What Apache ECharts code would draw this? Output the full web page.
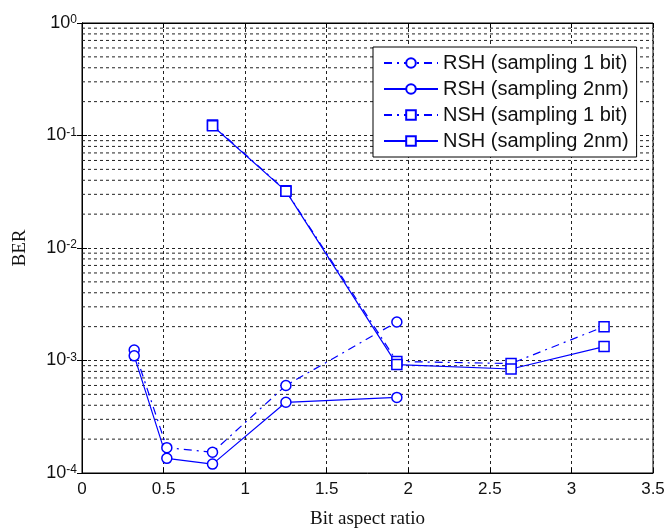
<!DOCTYPE html>
<html>
<head>
<meta charset="utf-8">
<script src="https://cdn.jsdelivr.net/npm/echarts@6/dist/echarts.min.js"></script>
<style>
  html, body { margin: 0; padding: 0; background: #fff; }
  #chart { width: 670px; height: 531px; }
</style>
</head>
<body>
<div id="chart"></div>
<script>
// Bit aspect ratio on x, bit error rate (log scale) on y
const seriesNames = [
  'RSH (sampling 1 bit)',
  'RSH (sampling 2nm)',
  'NSH (sampling 1 bit)',
  'NSH (sampling 2nm)'
];

const rshRatio = [0.32, 0.52, 0.80, 1.25, 1.93];
const rsh1bit  = [1.24e-3, 1.68e-4, 1.53e-4, 6.0e-4, 2.2e-3];
const rsh2nm   = [1.10e-3, 1.35e-4, 1.20e-4, 4.25e-4, 4.7e-4];

const nshRatio = [0.80, 1.25, 1.93, 2.63, 3.20];
const nsh1bit  = [0.124, 0.0323, 9.8e-4, 9.4e-4, 2.0e-3];
const nsh2nm   = [0.122, 0.0320, 9.2e-4, 8.4e-4, 1.33e-3];

const xTicks = [0, 0.5, 1, 1.5, 2, 2.5, 3, 3.5];
const yDecades = [-4, -3, -2, -1, 0];

const BLUE = '#0000ff';
const GRID_DASH = { type: [3, 3], color: '#222', width: 1 };
const DASH_DOT = [8, 5, 2, 5];
const sansFont = '"Liberation Sans", Arial, sans-serif';
const serifFont = '"Liberation Serif", "Times New Roman", serif';

const xMin = xTicks[0];
const xMax = xTicks[xTicks.length - 1];

function pairs(xs, ys) {
  return xs.map((x, i) => [x, ys[i]]);
}

// minor log grid lines (2..9 within every decade), each spanning the x range
const minorGridSeries = [];
for (let d = yDecades[0]; d < yDecades[yDecades.length - 1]; d++) {
  for (let m = 2; m <= 9; m++) {
    const v = m * Math.pow(10, d);
    minorGridSeries.push({
      name: 'grid-' + m + 'e' + d,
      type: 'line',
      data: [[xMin, v], [xMax, v]],
      symbol: 'none',
      silent: true,
      z: 1,
      lineStyle: GRID_DASH,
      emphasis: { disabled: true },
      tooltip: { show: false }
    });
  }
}

function curve(name, xs, ys, symbol, dashed) {
  return {
    name: name,
    type: 'line',
    data: pairs(xs, ys),
    symbol: symbol,
    symbolSize: 10,
    showAllSymbol: true,
    z: 3,
    lineStyle: { color: BLUE, width: 1.2, type: dashed ? DASH_DOT : 'solid' },
    itemStyle: { color: '#fff', borderColor: BLUE, borderWidth: 1.5 },
    emphasis: { disabled: true }
  };
}

const chart = echarts.init(document.getElementById('chart'), null, { renderer: 'canvas' });

chart.setOption({
  animation: false,
  backgroundColor: '#fff',
  grid: {
    left: 82, top: 23, right: 17, bottom: 58,
    containLabel: false,
    outerBoundsMode: 'none',
    show: true, borderColor: '#000', borderWidth: 1, backgroundColor: '#fff'
  },
  legend: {
    data: seriesNames,
    orient: 'vertical',
    left: 373,
    top: 47,
    padding: [6, 8, 6, 10],
    itemWidth: 54,
    itemHeight: 12,
    itemGap: 6,
    backgroundColor: '#fff',
    borderColor: '#000',
    borderWidth: 1,
    borderRadius: 0,
    textStyle: { fontFamily: sansFont, fontSize: 20, color: '#111' },
    selectedMode: false
  },
  xAxis: [
    {
      type: 'value',
      min: xMin,
      max: xMax,
      interval: 0.5,
      name: 'Bit aspect ratio',
      nameLocation: 'middle',
      nameGap: 37,
      nameTextStyle: { fontFamily: serifFont, fontSize: 19, color: '#111' },
      axisLine: { show: true, lineStyle: { color: '#000', width: 1 } },
      axisTick: { show: true, inside: true, length: 5, lineStyle: { color: '#000' } },
      axisLabel: { fontFamily: sansFont, fontSize: 17, color: '#111', margin: 8 },
      splitLine: { show: true, lineStyle: GRID_DASH }
    },
    {
      type: 'value',
      position: 'top',
      min: xMin,
      max: xMax,
      interval: 0.5,
      axisLine: { show: true, lineStyle: { color: '#000', width: 1 } },
      axisTick: { show: true, inside: true, length: 5, lineStyle: { color: '#000' } },
      axisLabel: { show: false },
      splitLine: { show: false }
    }
  ],
  yAxis: [
    {
      type: 'log',
      logBase: 10,
      min: Math.pow(10, yDecades[0]),
      max: Math.pow(10, yDecades[yDecades.length - 1]),
      name: 'BER',
      nameLocation: 'middle',
      nameGap: 52,
      nameTextStyle: { fontFamily: serifFont, fontSize: 19, color: '#111' },
      axisLine: { show: true, lineStyle: { color: '#000', width: 1 } },
      axisTick: { show: true, inside: true, length: 5, lineStyle: { color: '#000' } },
      axisLabel: {
        margin: 5,
        formatter: function (v) {
          const e = Math.round(Math.log10(v));
          return '{b|10}{s|' + e + '}';
        },
        rich: {
          b: { fontFamily: sansFont, fontSize: 18, color: '#111', verticalAlign: 'bottom', lineHeight: 18, padding: [12, 0, 0, 0] },
          s: { fontFamily: sansFont, fontSize: 12, color: '#111', verticalAlign: 'top', lineHeight: 12 }
        }
      },
      splitLine: { show: true, lineStyle: GRID_DASH }
    },
    {
      type: 'log',
      logBase: 10,
      position: 'right',
      min: Math.pow(10, yDecades[0]),
      max: Math.pow(10, yDecades[yDecades.length - 1]),
      axisLine: { show: true, lineStyle: { color: '#000', width: 1 } },
      axisTick: { show: true, inside: true, length: 5, lineStyle: { color: '#000' } },
      axisLabel: { show: false },
      splitLine: { show: false }
    }
  ],
  series: minorGridSeries.concat([
    curve(seriesNames[0], rshRatio, rsh1bit, 'circle', true),
    curve(seriesNames[1], rshRatio, rsh2nm, 'circle', false),
    curve(seriesNames[2], nshRatio, nsh1bit, 'rect', true),
    curve(seriesNames[3], nshRatio, nsh2nm, 'rect', false)
  ])
});
</script>
</body>
</html>
